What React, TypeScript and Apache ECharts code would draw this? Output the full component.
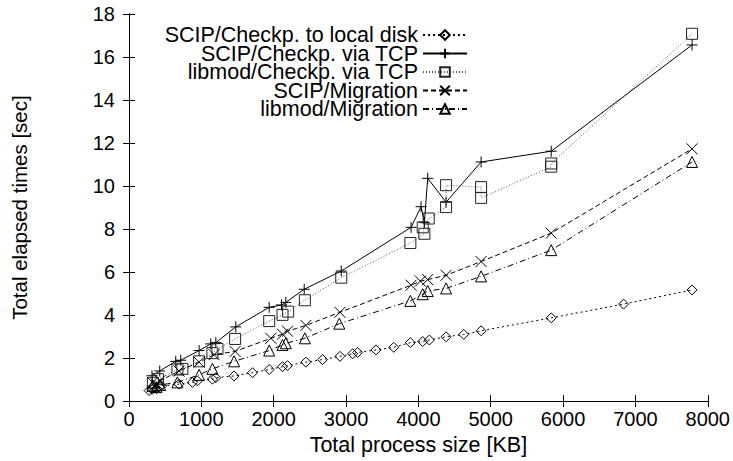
import React, { useEffect, useRef } from "react";
import * as echarts from "echarts";

// ---- data (KB, sec) ----
const seriesNames = [
  "SCIP/Checkp. to local disk",
  "SCIP/Checkp. via TCP",
  "libmod/Checkp. via TCP",
  "SCIP/Migration",
  "libmod/Migration",
];

const diskKB = [277, 320, 350, 380, 420, 450, 692, 877, 946, 1153, 1200, 1453, 1707, 1938, 2122, 2191, 2445, 2676, 2916, 3092, 3160, 3414, 3660, 3889, 4060, 4152, 4383, 4627, 4867, 5836, 6837, 7783];
const diskSec = [0.49, 0.55, 0.62, 0.58, 0.66, 0.7, 0.79, 0.87, 0.94, 1.02, 1.09, 1.17, 1.32, 1.47, 1.6, 1.65, 1.81, 1.93, 2.08, 2.2, 2.26, 2.38, 2.5, 2.72, 2.77, 2.84, 2.99, 3.1, 3.27, 3.87, 4.51, 5.17];

const scipTcpKB = [318, 425, 646, 715, 969, 1130, 1200, 1476, 1938, 2108, 2168, 2422, 2934, 3899, 4037, 4083, 4129, 4383, 4867, 5836, 7783];
const scipTcpSec = [1.18, 1.4, 1.85, 1.9, 2.35, 2.66, 2.72, 3.45, 4.36, 4.47, 4.59, 5.2, 6.05, 8.08, 9.04, 8.3, 10.36, 9.25, 11.12, 11.62, 16.56];

const libTcpKB = [330, 400, 669, 738, 969, 1153, 1223, 1467, 1938, 2122, 2200, 2431, 2934, 3889, 4083, 4060, 4143, 4383, 4383, 4867, 4867, 5836, 5836, 7783];
const libTcpSec = [0.85, 1.02, 1.47, 1.5, 1.85, 2.23, 2.42, 2.89, 3.72, 4.01, 4.16, 4.69, 5.74, 7.35, 7.78, 8.08, 8.49, 9.02, 10.04, 9.95, 9.45, 10.9, 11.05, 17.08];

const scipMigKB = [323, 380, 430, 692, 969, 1176, 1467, 1961, 2122, 2191, 2445, 2916, 3899, 4028, 4129, 4383, 4867, 5836, 7783];
const scipMigSec = [0.87, 0.8, 0.95, 1.4, 1.81, 2.16, 2.31, 2.92, 3.11, 3.25, 3.52, 4.13, 5.39, 5.58, 5.65, 5.85, 6.49, 7.81, 11.73];

const libMigKB = [323, 380, 430, 669, 969, 1153, 1453, 1938, 2122, 2168, 2431, 2907, 3889, 4060, 4129, 4383, 4867, 5836, 7783];
const libMigSec = [0.71, 0.65, 0.75, 0.87, 1.22, 1.5, 1.85, 2.35, 2.61, 2.69, 2.92, 3.6, 4.66, 4.97, 5.12, 5.24, 5.8, 7.02, 11.12];

const xTicks = [0, 1000, 2000, 3000, 4000, 5000, 6000, 7000, 8000];
const yTicks = [0, 2, 4, 6, 8, 10, 12, 14, 16, 18];

const zip = (xs: number[], ys: number[]) => xs.map((x, i) => [x, ys[i]]);

const FONT = "Liberation Sans, Arial, Helvetica, sans-serif";

export default function App() {
  const ref = useRef<HTMLDivElement>(null);
  useEffect(() => {
    if (!ref.current) return;
    document.body.style.margin = "0";
    const chart = echarts.init(ref.current, undefined, { renderer: "svg" });
    const hollow = { color: "rgba(0,0,0,0)", borderColor: "#000", borderWidth: 1 };
    const axisCommon = {
      type: "value" as const,
      axisLine: { show: true, lineStyle: { color: "#000", width: 1 } },
      axisTick: { show: true, inside: true, length: 6, lineStyle: { color: "#000" } },
      splitLine: { show: false },
    };
    const xMin = xTicks[0], xMax = xTicks[xTicks.length - 1];
    const yMin = yTicks[0], yMax = yTicks[yTicks.length - 1];
    const plain = (v: number) => String(v);
    chart.setOption({
      animation: false,
      backgroundColor: "#fff",
      textStyle: { fontFamily: FONT, color: "#000" },
      grid: { left: 129, right: 24, top: 14, bottom: 52, containLabel: false },
      legend: {
        orient: "vertical",
        align: "right",
        right: 260,
        top: 19,
        itemGap: -3.5,
        itemWidth: 44,
        itemHeight: 12,
        selectedMode: false,
        textStyle: { fontFamily: FONT, fontSize: 21.5, color: "#000" },
        data: seriesNames,
      },
      xAxis: [
        {
          ...axisCommon,
          min: xMin,
          max: xMax,
          interval: 1000,
          position: "bottom",
          name: "Total process size [KB]",
          nameLocation: "middle",
          nameGap: 30,
          nameTextStyle: { fontFamily: FONT, fontSize: 21.5, color: "#000" },
          axisLabel: { fontFamily: FONT, fontSize: 20, color: "#000", margin: 8, formatter: plain },
        },
        {
          ...axisCommon,
          min: xMin,
          max: xMax,
          interval: 1000,
          position: "top",
          axisLabel: { show: false },
        },
      ],
      yAxis: [
        {
          ...axisCommon,
          min: yMin,
          max: yMax,
          interval: 2,
          position: "left",
          name: "Total elapsed times [sec]",
          nameLocation: "middle",
          nameGap: 99,
          nameTextStyle: { fontFamily: FONT, fontSize: 20.5, color: "#000" },
          axisLabel: { fontFamily: FONT, fontSize: 20, color: "#000", margin: 14, formatter: plain },
        },
        {
          ...axisCommon,
          min: yMin,
          max: yMax,
          interval: 2,
          position: "right",
          axisLabel: { show: false },
        },
      ],
      series: [
        {
          name: seriesNames[0],
          type: "line",
          data: zip(diskKB, diskSec),
          symbol: "diamond",
          symbolSize: 10,
          itemStyle: hollow,
          lineStyle: { color: "#000", width: 1, type: [2, 3] },
        },
        {
          name: seriesNames[1],
          type: "line",
          data: zip(scipTcpKB, scipTcpSec),
          symbol: "path://M0,5L10,5M5,0L5,10",
          symbolSize: 11,
          itemStyle: hollow,
          lineStyle: { color: "#000", width: 1, type: "solid" },
        },
        {
          name: seriesNames[2],
          type: "line",
          data: zip(libTcpKB, libTcpSec),
          symbol: "rect",
          symbolSize: 11,
          itemStyle: { color: "rgba(0,0,0,0)", borderColor: "#222", borderWidth: 1 },
          lineStyle: { color: "#555", width: 1, type: [1, 2] },
        },
        {
          name: seriesNames[3],
          type: "line",
          data: zip(scipMigKB, scipMigSec),
          symbol: "path://M0,0L10,10M10,0L0,10",
          symbolSize: 11,
          itemStyle: hollow,
          lineStyle: { color: "#000", width: 1, type: [5, 3] },
        },
        {
          name: seriesNames[4],
          type: "line",
          data: zip(libMigKB, libMigSec),
          symbol: "triangle",
          symbolSize: 11,
          itemStyle: hollow,
          lineStyle: { color: "#000", width: 1, type: [6, 3, 1, 3] },
        },
      ],
    });
    return () => chart.dispose();
  }, []);
  return (
    <div
      ref={ref}
      style={{ position: "absolute", left: 0, top: 0, width: 733, height: 461 }}
    />
  );
}
